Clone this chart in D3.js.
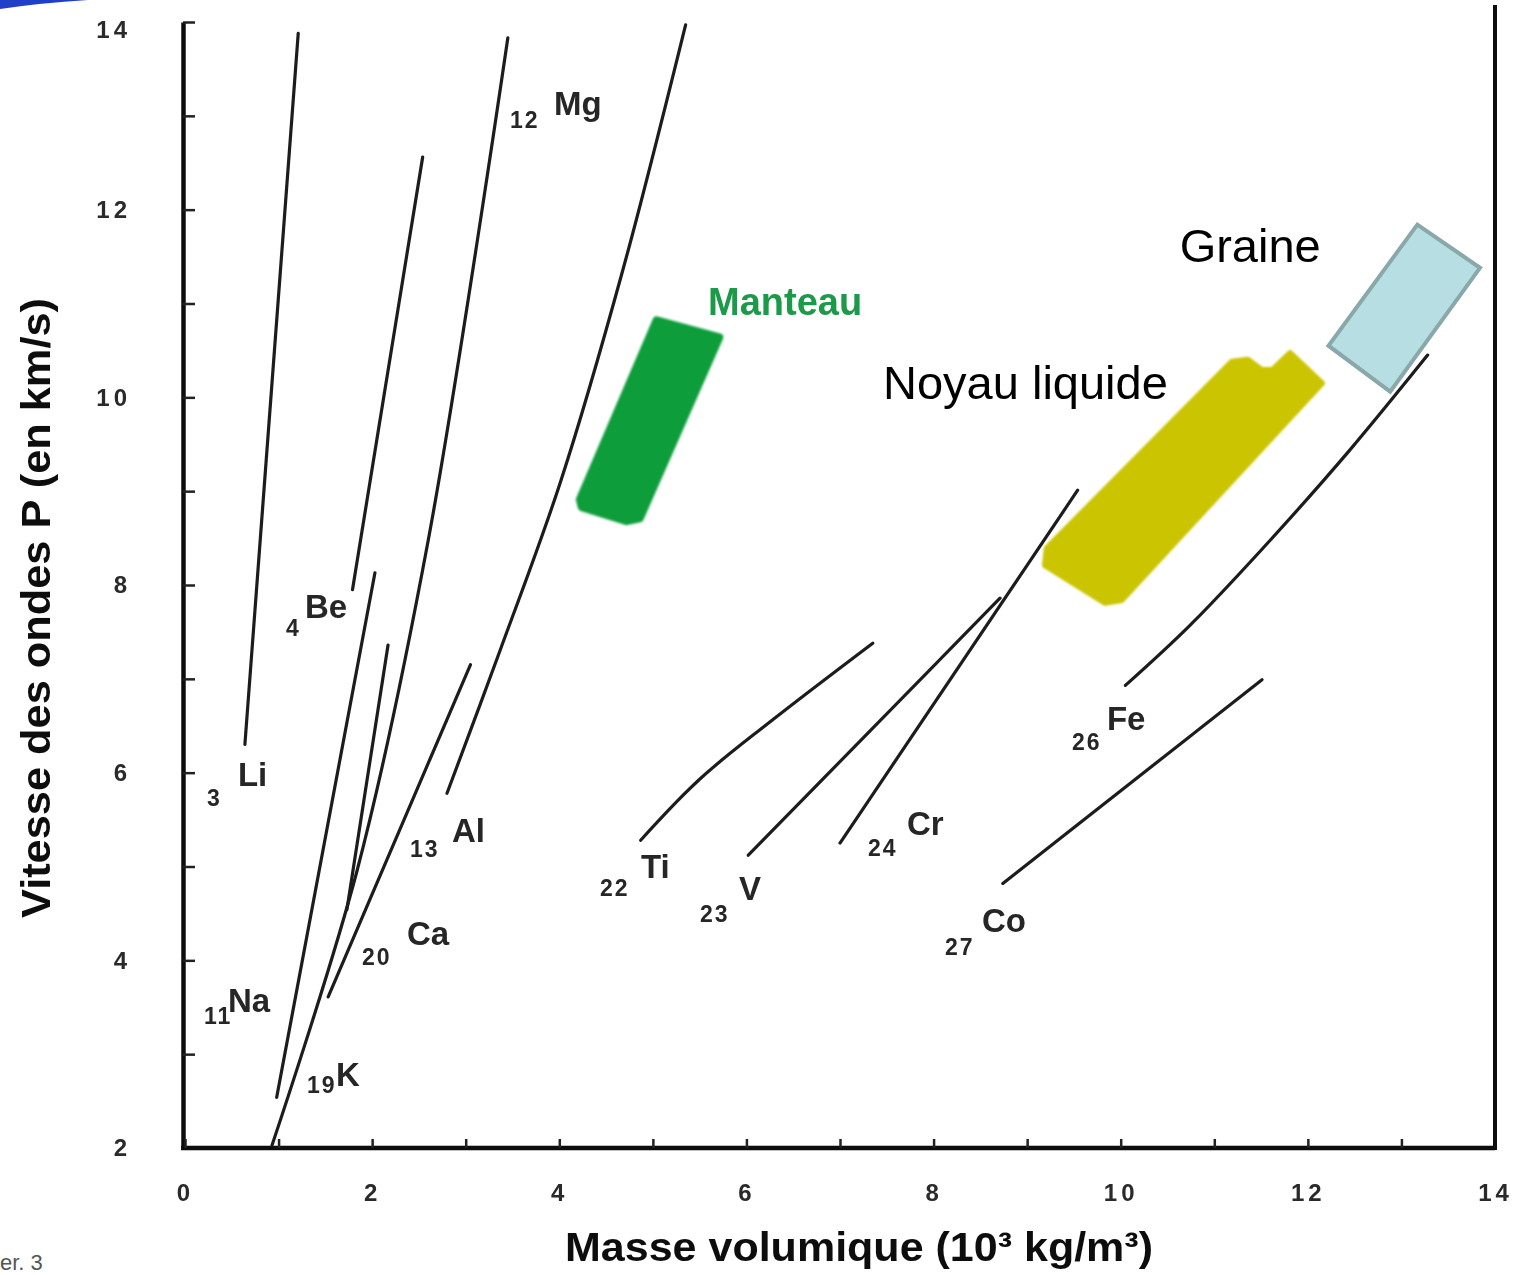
<!DOCTYPE html>
<html>
<head>
<meta charset="utf-8">
<script src="https://cdn.jsdelivr.net/npm/d3@7"></script>
<style>
  body { margin: 0; background: #fff; }
  svg { display: block; }
</style>
</head>
<body>
<svg id="chart" width="1521" height="1275"></svg>
<script>
// ---- axis ticks ----
const xTickValues = d3.range(0, 15);          // density, 10^3 kg/m^3
const yTickValues = d3.range(2, 15);          // P-wave velocity, km/s
const xTickLabels = [0, 2, 4, 6, 8, 10, 12, 14];
const yTickLabels = [2, 4, 6, 8, 10, 12, 14];

// ---- elements: symbol and atomic number ----
const symbols = ["Li", "Be", "Na", "K", "Mg", "Ca", "Al", "Ti", "V", "Cr", "Fe", "Co"];
const atomicNumbers = [3, 4, 11, 19, 12, 20, 13, 22, 23, 24, 26, 27];

// ---- velocity-density curves, [density, Vp] ----
const curveLi = [[0.64, 6.30], [1.21, 13.88]];
const curveBe = [[1.79, 7.95], [2.54, 12.56]];
const curveNa = [[0.98, 2.54], [2.03, 8.13]];
const curveK  = [[0.93, 2.03], [1.84, 4.96], [2.60, 8.48], [3.45, 13.83]];
const curveMg = [[1.73, 4.54], [2.17, 7.36]];
const curveCa = [[1.53, 3.61], [3.05, 7.15]];
const curveAl = [[2.80, 5.78], [3.37, 7.31], [4.01, 9.09], [4.68, 11.36], [5.35, 13.97]];
const curveTi = [[4.87, 5.28], [5.50, 5.93], [6.25, 6.54], [7.35, 7.38]];
const curveV  = [[6.02, 5.12], [8.71, 7.86]];
const curveCr = [[7.00, 5.25], [9.54, 9.01]];
const curveFe = [[10.05, 6.93], [10.74, 7.57], [11.60, 8.48], [12.45, 9.44], [13.28, 10.45]];
const curveCo = [[8.74, 4.82], [11.51, 6.99]];
const curves = [curveLi, curveBe, curveNa, curveK, curveMg, curveCa, curveAl,
                curveTi, curveV, curveCr, curveFe, curveCo];

// ---- label anchors: atomic number and symbol, in data units ----
const numberAnchors = [[0.235, 5.645], [1.079, 7.457], [0.203, 3.322], [1.304, 2.586],
                       [3.473, 12.871], [1.892, 3.950], [2.405, 5.101], [4.435, 4.686],
                       [5.504, 4.409], [7.299, 5.112], [9.480, 6.242], [8.122, 4.057]];
const symbolAnchors = [[0.566, 5.858], [1.282, 7.648], [0.460, 3.449], [1.614, 2.661],
                       [3.944, 13.009], [2.373, 4.163], [2.853, 5.261], [4.873, 4.877],
                       [5.921, 4.643], [7.716, 5.336], [9.853, 6.455], [8.518, 4.302]];

// ---- Earth layers, [density, Vp] outlines ----
const manteau = [[5.04, 10.82], [5.71, 10.64], [4.86, 8.71], [4.72, 8.68], [4.24, 8.83], [4.22, 8.91]];
const noyauLiquide = [[9.21, 8.39], [11.19, 10.38], [11.36, 10.40], [11.51, 10.29], [11.62, 10.29],
                      [11.81, 10.47], [12.15, 10.15], [10.01, 7.84], [9.83, 7.81], [9.19, 8.21]];
const graine = [[13.17, 11.84], [13.84, 11.38], [12.88, 10.06], [12.22, 10.55]];
const layerNames = ["Manteau", "Noyau liquide", "Graine"];
const layerLabelAnchors = [[5.59, 10.88], [7.46, 9.98], [10.63, 11.44]];

const xTitle = "Masse volumique (10\u00B3 kg/m\u00B3)";
const yTitle = "Vitesse des ondes P (en km/s)";

// ---- scales ----
const x = d3.scaleLinear().domain([0, 14]).range([185, 1495]);
const y = d3.scaleLinear().domain([2, 14]).range([1148, 22]);

const svg = d3.select("#chart");
const defs = svg.append("defs");
defs.append("filter").attr("id", "soft")
  .append("feGaussianBlur").attr("stdDeviation", 0.7);
defs.append("filter").attr("id", "softer")
  .append("feGaussianBlur").attr("stdDeviation", 1.1);

// slide decoration at the top left corner
svg.append("path")
  .attr("d", "M0,0 L88,0 Q40,3 0,9 Z")
  .attr("fill", "#1f3fc8");
svg.append("text")
  .attr("x", 0).attr("y", 1270)
  .attr("font-family", "Liberation Sans, Arial, sans-serif")
  .attr("font-size", 22)
  .attr("fill", "#555")
  .text("er. 3");

const scan = svg.append("g").attr("filter", "url(#soft)");

// ---- axes ----
const font = "Liberation Sans, Arial, Helvetica, sans-serif";

const yAxis = d3.axisLeft(y)
  .tickValues(yTickValues)
  .tickSize(-12)
  .tickSizeOuter(0)
  .tickPadding(52)
  .tickFormat(d => yTickLabels.includes(d) ? String(d) : "");
const gy = scan.append("g").attr("transform", `translate(${x(0) - 2},0)`).call(yAxis);

const xAxis = d3.axisBottom(x)
  .tickValues(xTickValues)
  .tickSize(-9)
  .tickSizeOuter(0)
  .tickPadding(36)
  .tickFormat(d => xTickLabels.includes(d) ? String(d) : "");
const gx = scan.append("g").attr("transform", `translate(0,${y(2)})`).call(xAxis);

[gx, gy].forEach(g => {
  g.select(".domain").attr("stroke", "#111").attr("stroke-width", 4.5);
  g.selectAll(".tick line").attr("stroke", "#222").attr("stroke-width", 2.5);
  g.selectAll(".tick text")
    .attr("font-family", font)
    .attr("font-weight", "bold")
    .attr("font-size", 24)
    .attr("letter-spacing", 4)
    .attr("fill", "#2a2a2a");
});
gx.select(".domain").attr("d", `M${x(0) - 4},0H${x(14)}`);
gy.selectAll(".tick text").filter(d => d === 14).attr("dy", "0.65em");

// right frame line
scan.append("line")
  .attr("x1", x(14)).attr("x2", x(14))
  .attr("y1", y(14) - 17).attr("y2", y(2) + 2)
  .attr("stroke", "#111").attr("stroke-width", 4);

// ---- curves ----
const line = d3.line()
  .x(d => x(d[0])).y(d => y(d[1]))
  .curve(d3.curveCatmullRom.alpha(0.5));

scan.append("g").selectAll("path")
  .data(curves)
  .join("path")
  .attr("d", line)
  .attr("fill", "none")
  .attr("stroke", "#1c1c1c")
  .attr("stroke-width", 3.2)
  .attr("stroke-linecap", "round");

// ---- element labels ----
const labels = scan.append("g")
  .attr("font-family", font)
  .attr("font-weight", "bold")
  .attr("fill", "#262626");

labels.selectAll("text.z")
  .data(symbols)
  .join("text")
  .attr("class", "z")
  .attr("x", (d, i) => x(numberAnchors[i][0]))
  .attr("y", (d, i) => y(numberAnchors[i][1]))
  .attr("font-size", 23)
  .attr("letter-spacing", 2)
  .text((d, i) => atomicNumbers[i]);

labels.selectAll("text.sym")
  .data(symbols)
  .join("text")
  .attr("class", "sym")
  .attr("x", (d, i) => x(symbolAnchors[i][0]))
  .attr("y", (d, i) => y(symbolAnchors[i][1]))
  .attr("font-size", 33)
  .text(d => d);

// ---- axis titles ----
scan.append("text")
  .attr("x", 565).attr("y", 1261)
  .attr("font-family", "Liberation Sans Narrow, Arial Narrow, Liberation Sans, Arial, sans-serif")
  .attr("font-weight", "bold")
  .attr("font-size", 40)
  .attr("fill", "#111")
  .attr("textLength", 588)
  .attr("lengthAdjust", "spacingAndGlyphs")
  .text(xTitle);

scan.append("text")
  .attr("transform", "translate(50,918) rotate(-90)")
  .attr("font-family", "Liberation Sans Narrow, Arial Narrow, Liberation Sans, Arial, sans-serif")
  .attr("font-weight", "bold")
  .attr("font-size", 40)
  .attr("fill", "#111")
  .attr("textLength", 620)
  .attr("lengthAdjust", "spacingAndGlyphs")
  .text(yTitle);

// ---- Earth layers ----
const poly = d3.line().x(d => x(d[0])).y(d => y(d[1])).curve(d3.curveLinearClosed);

svg.append("path")
  .attr("d", poly(manteau))
  .attr("fill", "#0f9e3b")
  .attr("stroke", "#0f9e3b")
  .attr("stroke-width", 8)
  .attr("stroke-linejoin", "round")
  .attr("filter", "url(#softer)");

svg.append("path")
  .attr("d", poly(noyauLiquide))
  .attr("fill", "#cbc400")
  .attr("stroke", "#cbc400")
  .attr("stroke-width", 6)
  .attr("stroke-linejoin", "round")
  .attr("filter", "url(#softer)");

svg.append("path")
  .attr("d", poly(graine))
  .attr("fill", "#b7dee2")
  .attr("stroke", "#8aa7aa")
  .attr("stroke-width", 4);

svg.append("text")
  .attr("x", x(layerLabelAnchors[0][0])).attr("y", y(layerLabelAnchors[0][1]))
  .attr("font-family", font)
  .attr("font-weight", "bold")
  .attr("font-size", 38)
  .attr("fill", "#1b9a48")
  .attr("filter", "url(#soft)")
  .text(layerNames[0]);

svg.append("text")
  .attr("x", x(layerLabelAnchors[1][0])).attr("y", y(layerLabelAnchors[1][1]))
  .attr("font-family", font)
  .attr("font-size", 47)
  .attr("fill", "#000")
  .text(layerNames[1]);

svg.append("text")
  .attr("x", x(layerLabelAnchors[2][0])).attr("y", y(layerLabelAnchors[2][1]))
  .attr("font-family", font)
  .attr("font-size", 47)
  .attr("fill", "#000")
  .text(layerNames[2]);
</script>
</body>
</html>
